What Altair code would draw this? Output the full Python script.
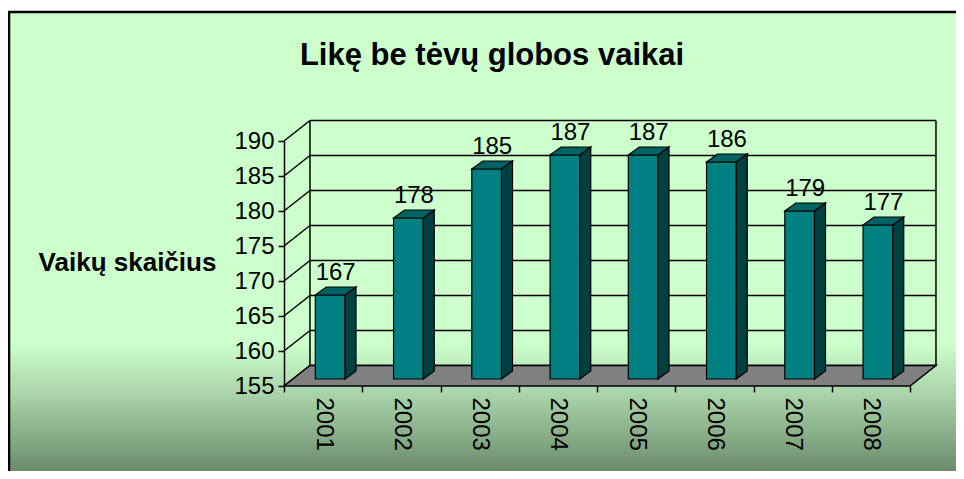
import altair as alt
import pandas as pd

# ---- data -------------------------------------------------------------
years = ["2001", "2002", "2003", "2004", "2005", "2006", "2007", "2008"]
values = [167, 178, 185, 187, 187, 186, 179, 177]
y_ticks = [155, 160, 165, 170, 175, 180, 185, 190]
title_text = "Likę be tėvų globos vaikai"
y_title = "Vaikų skaičius"

# ---- pseudo-3D geometry (in axis units) --------------------------------
Y_MIN, Y_MAX = 155, 190
N = len(years)
WALL_DX, WALL_DY = 0.332, 2.93      # depth of the back wall
BAR_L, BAR_R = 0.40, 0.78           # front face inside each category band
BAR_LIFT = 1.0                      # bars stand a bit behind the front edge
BAR_DX, BAR_DY = 0.14, 1.14         # depth of each bar

W, H = 626, 245
FONT = "Liberation Sans"

xs = alt.Scale(domain=[0, N], nice=False, zero=False)
ys = alt.Scale(domain=[Y_MIN, Y_MAX], nice=False, zero=False)

yaxis = alt.Axis(
    values=y_ticks, grid=False, domainColor="black", domainWidth=1.5,
    tickColor="black", tickSize=6, tickWidth=1.5, zindex=2,
    labelFont=FONT, labelFontSize=24, labelColor="black", labelPadding=4,
    title=y_title, titleFont=FONT, titleFontSize=26, titleFontWeight="bold",
    titleColor="black", titleAngle=0, titleAlign="center", titleBaseline="middle",
    titleX=-157, titleY=121,
)
X = alt.X("x:Q", scale=xs, axis=None)
Y = alt.Y("y:Q", scale=ys, axis=yaxis, stack=None)

# ---- tables built from the arrays --------------------------------------
grid = pd.DataFrame({
    "x": [WALL_DX] * len(y_ticks), "x2": [N + WALL_DX] * len(y_ticks),
    "y": [t + WALL_DY for t in y_ticks],
})
walls = pd.DataFrame({
    "x": [WALL_DX, N + WALL_DX], "x2": [WALL_DX, N + WALL_DX],
    "y": [Y_MIN + WALL_DY] * 2, "y2": [Y_MAX + WALL_DY] * 2,
})
diag = pd.DataFrame({
    "x": [0.0] * len(y_ticks), "x2": [WALL_DX] * len(y_ticks),
    "y": y_ticks, "y2": [t + WALL_DY for t in y_ticks],
})
floor = pd.DataFrame({
    "x": [0.0, WALL_DX, N, N + WALL_DX],
    "y": [Y_MIN, Y_MIN + WALL_DY, Y_MIN + WALL_DY, Y_MIN + WALL_DY],
    "y2": [Y_MIN, Y_MIN, Y_MIN, Y_MIN + WALL_DY],
})
front = pd.DataFrame({
    "year": years, "v": values,
    "x": [i + BAR_L for i in range(N)], "x2": [i + BAR_R for i in range(N)],
    "y": [Y_MIN + BAR_LIFT] * N, "y2": [v + BAR_LIFT for v in values],
})
side_rows, top_rows = [], []
for i, (yr, v) in enumerate(zip(years, values)):
    x0, x1 = i + BAR_L, i + BAR_R
    t, b = v + BAR_LIFT, Y_MIN + BAR_LIFT
    side_rows += [
        {"year": yr, "x": x1, "y": t, "y2": b},
        {"year": yr, "x": x1 + BAR_DX, "y": t + BAR_DY, "y2": b + BAR_DY},
    ]
    top_rows += [
        {"year": yr, "x": x0, "y": t, "y2": t},
        {"year": yr, "x": x0 + BAR_DX, "y": t + BAR_DY, "y2": t},
        {"year": yr, "x": x1, "y": t + BAR_DY, "y2": t},
        {"year": yr, "x": x1 + BAR_DX, "y": t + BAR_DY, "y2": t + BAR_DY},
    ]
side = pd.DataFrame(side_rows)
top = pd.DataFrame(top_rows)
labels = pd.DataFrame({
    "year": years, "v": values,
    "x": [i + (BAR_L + BAR_R + BAR_DX) / 2 for i in range(N)],
    "y": [v + BAR_LIFT + BAR_DY for v in values],
})

# ---- layers -------------------------------------------------------------
bg = alt.Chart(pd.DataFrame({"a": [0]})).mark_rect(
    fill=alt.Gradient(
        gradient="linear", x1=0, x2=0, y1=0, y2=1,
        stops=[
            alt.GradientStop(color="#ccffcc", offset=0),
            alt.GradientStop(color="#ccffcc", offset=0.685),
            alt.GradientStop(color="#a6cfa6", offset=0.8),
            alt.GradientStop(color="#658465", offset=0.965),
            alt.GradientStop(color="#607c60", offset=1),
        ],
    ),
    stroke="black", strokeWidth=2.5,
).encode(x=alt.value(-275), x2=alt.value(W + 60), y=alt.value(-129), y2=alt.value(H + 110))

grid_l = alt.Chart(grid).mark_rule(color="black", strokeWidth=1.5).encode(x=X, x2="x2:Q", y=Y)
walls_l = alt.Chart(walls).mark_rule(color="black", strokeWidth=1.5).encode(x=X, x2="x2:Q", y=Y, y2="y2:Q")
diag_l = alt.Chart(diag).mark_rule(color="black", strokeWidth=1.5).encode(x=X, x2="x2:Q", y=Y, y2="y2:Q")
floor_l = alt.Chart(floor).mark_area(
    fill="#808080", stroke="black", strokeWidth=1.5, orient="vertical", opacity=1
).encode(x=X, y=Y, y2="y2:Q")
front_l = alt.Chart(front).mark_rect(fill="#008080", stroke="black", strokeWidth=1.2).encode(
    x=X, x2="x2:Q", y=Y, y2="y2:Q")
side_l = alt.Chart(side).mark_area(
    fill="#004040", stroke="black", strokeWidth=1.2, orient="vertical", opacity=1
).encode(x=X, y=Y, y2="y2:Q", detail="year:N")
top_l = alt.Chart(top).mark_area(
    fill="#006262", stroke="black", strokeWidth=1.2, orient="vertical", opacity=1
).encode(x=X, y=Y, y2="y2:Q", detail="year:N")
label_l = alt.Chart(labels).mark_text(
    font=FONT, fontSize=24, color="black", baseline="alphabetic", align="center", dy=-7
).encode(x=X, y=Y, text=alt.Text("v:Q"))

xaxis = alt.Axis(
    orient="bottom", title=None, tickBand="extent", domain=False, zindex=2,
    tickColor="black", tickSize=6, tickWidth=1.5,
    labelAngle=90, labelAlign="left", labelBaseline="middle",
    labelFont=FONT, labelFontSize=24, labelColor="black", labelPadding=5,
)
axis_l = alt.Chart(pd.DataFrame({"year": years})).mark_point(opacity=0).encode(
    x=alt.X("year:N", sort=years, scale=alt.Scale(paddingInner=0, paddingOuter=0), axis=xaxis)
)

chart = alt.layer(
    bg, grid_l, walls_l, diag_l, floor_l, front_l, side_l, top_l, label_l, axis_l
).resolve_scale(x="independent").properties(
    width=W, height=H,
    padding={"left": 276, "top": 133, "right": 46, "bottom": 85},
    autosize="none",
    title=alt.TitleParams(
        text=title_text, font=FONT, fontSize=31, fontWeight="bold", color="black",
        anchor="middle", frame="group", dx=-105, offset=0, baseline="alphabetic", dy=85,
    ),
).configure_view(stroke=None).configure(background="white")

chart.save("out.html", embed_options={"renderer": "svg", "actions": False})
